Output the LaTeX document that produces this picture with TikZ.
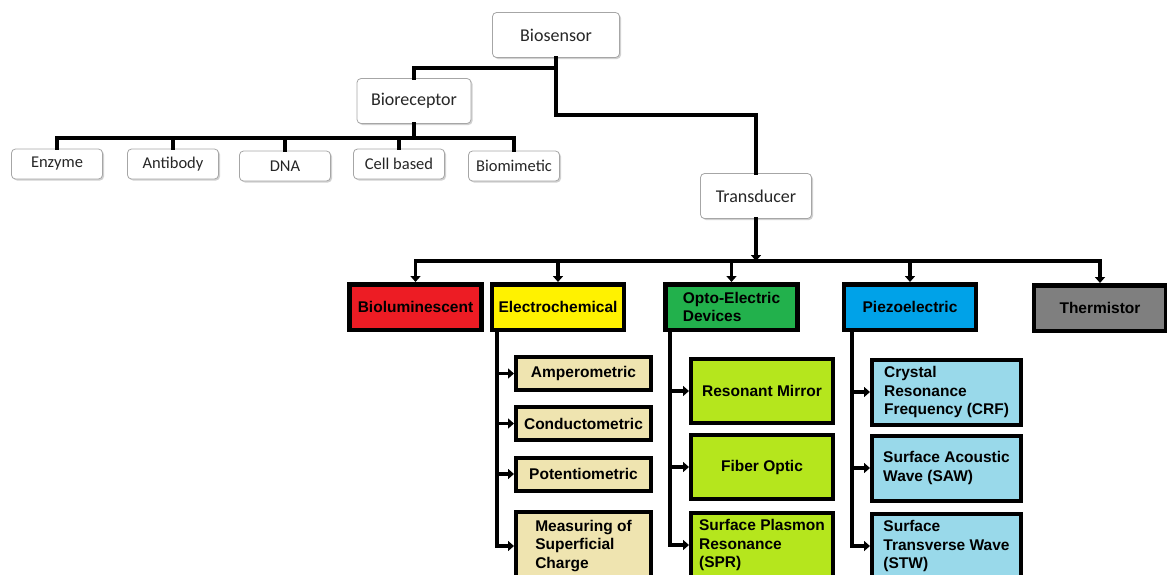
\documentclass[tikz,border=0pt]{standalone}
\usepackage{fontspec}
\usepackage{tikz}
\usetikzlibrary{arrows.meta, shadows}
\newfontfamily\carlito{Carlito}
\newfontfamily\liberat{Liberation Sans}
\definecolor{bioRed}{HTML}{ED1C24}
\definecolor{bioYellow}{HTML}{FFF200}
\definecolor{bioGreen}{HTML}{22B14C}
\definecolor{bioBlue}{HTML}{00A2E8}
\definecolor{bioGray}{HTML}{7F7F7F}
\definecolor{bioWheat}{HTML}{EFE4B0}
\definecolor{bioLime}{HTML}{B5E61D}
\definecolor{bioSky}{HTML}{99D9EA}
\tikzset{
	topbox/.style={draw=black!35, line width=0.8pt, rounded corners=4pt, fill=white, text=black!85, inner sep=2pt,
		drop shadow={shadow xshift=1.5pt, shadow yshift=-1.5pt, opacity=0.3, fill=black!60}},
	bigbox/.style={topbox, font=\carlito\fontsize{18}{20}\selectfont, minimum height=45pt},
	leafbox/.style={topbox, font=\carlito\fontsize{16.5}{18}\selectfont, minimum width=91pt, minimum height=30pt},
	catbox/.style={draw=black, line width=4.5pt, minimum width=132pt, minimum height=45.5pt, inner sep=1pt,
		font=\liberat\bfseries\fontsize{15.5}{18}\selectfont, align=left},
	subbox/.style={draw=black, line width=4pt, inner sep=1pt,
		font=\liberat\bfseries\fontsize{15.5}{18.5}\selectfont, align=left},
	conn/.style={line width=3.5pt, black, line cap=rect},
	arr/.style={-{Triangle[width=10pt,length=6pt]}}
}

\begin{document}
\begin{tikzpicture}[x=1pt, y=-1pt]
	\useasboundingbox (0,0) rectangle (1167,574);
	\clip (0,0) rectangle (1167,574);
	
	% Верхние блоки
	\node[bigbox, minimum width=127pt] (bios) at (556,35) {Biosensor};
	\node[bigbox, minimum width=114pt] (brec) at (414,101) {Bioreceptor};
	\node[bigbox, minimum width=111pt] (trans) at (756,196) {Transducer};
	
	% Виды биорецепторов
	\node[leafbox] (enz) at (57,164) {Enzyme};
	\node[leafbox] (ab) at (173,164) {Antibody};
	\node[leafbox] (dna) at (285,166) {DNA};
	\node[leafbox] (cell) at (399,164) {Cell based};
	\node[leafbox] (bmm) at (514,166) {Biomimetic};
	
	% Виды преобразователей
	\node[catbox, fill=bioRed] (biolum) at (415.5,307) {Bioluminescent};
	\node[catbox, fill=bioYellow] (echem) at (558,307) {Electrochemical};
	\node[catbox, fill=bioGreen] (opto) at (731.5,307) {Opto-Electric\\Devices};
	\node[catbox, fill=bioBlue] (piezo) at (910,307) {Piezoelectric};
	\node[catbox, fill=bioGray] (therm) at (1100,308) {Thermistor};
	
	% Электрохимические
	\node[subbox, fill=bioWheat, minimum width=135pt, minimum height=33pt] (amp) at (583.5,373.5) {Amperometric};
	\node[subbox, fill=bioWheat, minimum width=135pt, minimum height=33pt] (cond) at (583.5,423.5) {Conductometric};
	\node[subbox, fill=bioWheat, minimum width=135pt, minimum height=33pt] (pot) at (583.5,474) {Potentiometric};
	\node[subbox, fill=bioWheat, minimum width=135pt, minimum height=68pt] (msc) at (583.5,546) {Measuring of\\Superficial\\Charge};
	
	% Оптоэлектрические
	\node[subbox, fill=bioLime, minimum width=142pt, minimum height=64pt] (rmir) at (762,391) {Resonant Mirror};
	\node[subbox, fill=bioLime, minimum width=142pt, minimum height=64pt] (fib) at (762,467) {Fiber Optic};
	\node[subbox, fill=bioLime, minimum width=142pt, minimum height=64pt] (spr) at (762,545) {Surface Plasmon\\Resonance\\(SPR)};
	
	% Пьезоэлектрические
	\node[subbox, fill=bioSky, minimum width=149pt, minimum height=65pt] (crf) at (946.5,392) {Crystal\\Resonance\\Frequency (CRF)};
	\node[subbox, fill=bioSky, minimum width=149pt, minimum height=65pt] (saw) at (946.5,468) {Surface Acoustic\\Wave (SAW)};
	\node[subbox, fill=bioSky, minimum width=149pt, minimum height=64pt] (stw) at (946.5,546) {Surface\\Transverse Wave\\(STW)};
	
	% Соединения сверху
	\coordinate (bjoin) at (556,68);
	\coordinate (tjoin) at (556,115);
	\draw[conn] (bios.south) -- (tjoin) -| (trans.north);
	\draw[conn] (bjoin) -| (brec.north);
	\coordinate (rbus) at (414,138);
	\draw[conn] (brec.south) -- (rbus);
	\draw[conn] (rbus -| enz.north) -- (rbus -| bmm.north);
	\foreach \n in {enz,ab,dna,cell,bmm}
		\draw[conn] (rbus -| \n.north) -- (\n.north);
	
	% Шина преобразователей
	\coordinate (tbus) at (756,261);
	\draw[conn, arr] (trans.south) -- (tbus);
	\draw[conn] (tbus -| biolum.north) -- (tbus -| therm.north);
	\foreach \n in {biolum,echem,opto,piezo,therm}
		\draw[conn, arr] (tbus -| \n.north) -- (\n.north);
	
	% Стволы к подвидам
	\coordinate (etop) at (497,331);
	\coordinate (otop) at (670,331);
	\coordinate (ptop) at (852,331);
	\draw[conn] (etop) -- (etop |- msc.west);
	\draw[conn] (otop) -- (otop |- spr.west);
	\draw[conn] (ptop) -- (ptop |- stw.west);
	\foreach \n in {amp,cond,pot,msc}
		\draw[conn, arr] (etop |- \n.west) -- (\n.west);
	\foreach \n in {rmir,fib,spr}
		\draw[conn, arr] (otop |- \n.west) -- (\n.west);
	\foreach \n in {crf,saw,stw}
		\draw[conn, arr] (ptop |- \n.west) -- (\n.west);
\end{tikzpicture}
\end{document}
